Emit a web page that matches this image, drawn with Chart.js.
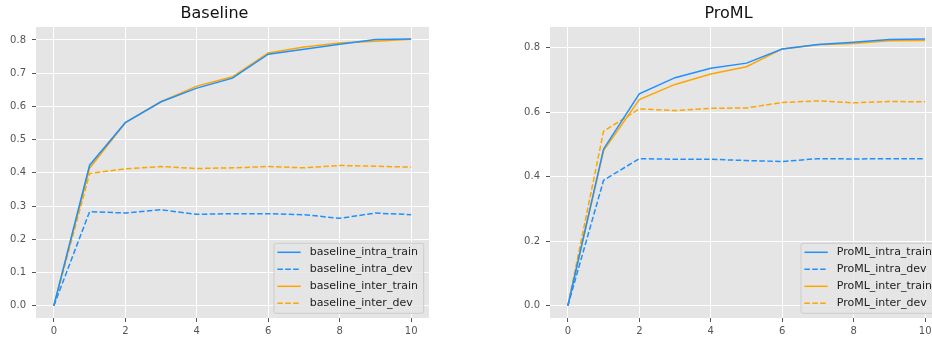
<!DOCTYPE html>
<html>
<head>
<meta charset="utf-8">
<script src="https://cdn.jsdelivr.net/npm/chart.js@4"></script>
<style>
  html, body { margin: 0; padding: 0; overflow: hidden; background: #fff; }
  body { width: 932px; height: 337px; position: relative; }
  canvas { position: absolute; top: 0; }
</style>
</head>
<body>
<canvas id="baseline" width="466" height="337" style="left:0px"></canvas>
<canvas id="proml" width="466" height="337" style="left:514px"></canvas>
<script>
const epochs = [0, 1, 2, 3, 4, 5, 6, 7, 8, 9, 10];
const xTicks = [0, 2, 4, 6, 8, 10];

// Baseline
const baselineIntraTrain = [0, 0.423, 0.551, 0.614, 0.655, 0.685, 0.757, 0.772, 0.787, 0.801, 0.803];
const baselineIntraDev   = [0, 0.283, 0.279, 0.289, 0.275, 0.277, 0.277, 0.274, 0.263, 0.279, 0.274];
const baselineInterTrain = [0, 0.414, 0.551, 0.614, 0.661, 0.689, 0.761, 0.779, 0.791, 0.796, 0.802];
const baselineInterDev   = [0, 0.398, 0.412, 0.419, 0.413, 0.415, 0.419, 0.415, 0.422, 0.420, 0.417];
const baselineYTicks = [0, 0.1, 0.2, 0.3, 0.4, 0.5, 0.6, 0.7, 0.8];

// ProML
const promlIntraTrain = [0, 0.486, 0.657, 0.707, 0.736, 0.752, 0.796, 0.810, 0.817, 0.825, 0.827];
const promlIntraDev   = [0, 0.389, 0.456, 0.454, 0.454, 0.450, 0.447, 0.456, 0.455, 0.456, 0.456];
const promlInterTrain = [0, 0.481, 0.639, 0.686, 0.718, 0.741, 0.796, 0.809, 0.813, 0.821, 0.822];
const promlInterDev   = [0, 0.541, 0.610, 0.605, 0.612, 0.613, 0.630, 0.635, 0.629, 0.633, 0.632];
const promlYTicks = [0, 0.2, 0.4, 0.6, 0.8];

const BLUE = '#1E90FF';
const ORANGE = '#FFA500';
const DASH = [5.5, 2.4];
const FONT = 'DejaVu Sans';

// grey panel like the ggplot style
const panelBg = {
    id: 'panelBg',
    beforeDraw(chart) {
        const { ctx, chartArea: a } = chart;
        ctx.save();
        ctx.fillStyle = '#E5E5E5';
        ctx.fillRect(a.left, a.top, a.right - a.left, a.bottom - a.top);
        ctx.restore();
    }
};

// legend inside the lower right corner of the plot
const cornerLegend = {
    id: 'cornerLegend',
    afterDatasetsDraw(chart) {
        const { ctx, chartArea: a } = chart;
        const sets = chart.data.datasets;
        ctx.save();
        ctx.font = '11px "' + FONT + '"';
        let textW = 0;
        sets.forEach(d => { textW = Math.max(textW, ctx.measureText(d.label).width); });
        const rowH = 17, padL = 3.4, padR = 5.7, lineW = 23.3, gap = 9;
        const w = padL + lineW + gap + textW + padR;
        const h = rowH * sets.length + 2;
        const right = a.right - 5.3;
        const bottom = a.bottom - 4.7;
        const left = right - w, top = bottom - h;
        ctx.beginPath();
        ctx.roundRect(left, top, w, h, 2);
        ctx.fillStyle = 'rgba(229,229,229,0.8)';
        ctx.fill();
        ctx.strokeStyle = '#CCCCCC';
        ctx.lineWidth = 1;
        ctx.stroke();
        sets.forEach((d, i) => {
            const cy = top + 9 + i * rowH;
            ctx.beginPath();
            ctx.setLineDash(d.borderDash || []);
            ctx.strokeStyle = d.borderColor;
            ctx.lineWidth = d.borderWidth;
            ctx.moveTo(left + padL, cy);
            ctx.lineTo(left + padL + lineW, cy);
            ctx.stroke();
            ctx.setLineDash([]);
            ctx.fillStyle = '#222';
            ctx.textBaseline = 'middle';
            ctx.fillText(d.label, left + padL + lineW + gap, cy);
        });
        ctx.restore();
    }
};

function series(label, values, color, dashed) {
    return {
        label: label,
        data: epochs.map((e, i) => ({ x: e, y: values[i] })),
        borderColor: color,
        backgroundColor: color,
        borderWidth: 1.5,
        borderDash: dashed ? DASH : [],
        pointRadius: 0,
        tension: 0,
        fill: false
    };
}

function makeChart(id, title, datasets, yTicks, yMin, yMax) {
    const ctx = document.getElementById(id).getContext('2d');
    return new Chart(ctx, {
        type: 'line',
        data: { datasets: datasets },
        options: {
            responsive: false,
            animation: false,
            devicePixelRatio: 1,
            events: [],
            layout: { padding: { left: 0, right: 37, top: 0, bottom: 0 } },
            plugins: {
                legend: { display: false },
                tooltip: { enabled: false },
                title: {
                    display: true,
                    text: title,
                    color: '#111',
                    font: { family: FONT, size: 16, weight: 'normal' },
                    padding: { top: 4, bottom: 3.8 }
                }
            },
            scales: {
                x: {
                    type: 'linear',
                    min: -0.5,
                    max: 10.5,
                    afterBuildTicks: s => { s.ticks = xTicks.map(v => ({ value: v })); },
                    afterFit: s => { s.height = 19; },
                    grid: { color: '#FFFFFF', lineWidth: 1, tickLength: 4, tickColor: '#555555' },
                    border: { display: false },
                    ticks: { color: '#555555', padding: 3, font: { family: FONT, size: 10 }, maxRotation: 0 }
                },
                y: {
                    type: 'linear',
                    min: yMin,
                    max: yMax,
                    afterBuildTicks: s => { s.ticks = yTicks.map(v => ({ value: v })); },
                    afterFit: s => { s.width = 36; },
                    grid: { color: '#FFFFFF', lineWidth: 1, tickLength: 4, tickColor: '#555555' },
                    border: { display: false },
                    ticks: {
                        color: '#555555',
                        padding: 6,
                        font: { family: FONT, size: 10 },
                        callback: v => Number(v).toFixed(1)
                    }
                }
            }
        },
        plugins: [panelBg, cornerLegend]
    });
}

makeChart('baseline', 'Baseline', [
    series('baseline_intra_train', baselineIntraTrain, BLUE, false),
    series('baseline_intra_dev', baselineIntraDev, BLUE, true),
    series('baseline_inter_train', baselineInterTrain, ORANGE, false),
    series('baseline_inter_dev', baselineInterDev, ORANGE, true)
], baselineYTicks, -0.037, 0.839);

makeChart('proml', 'ProML', [
    series('ProML_intra_train', promlIntraTrain, BLUE, false),
    series('ProML_intra_dev', promlIntraDev, BLUE, true),
    series('ProML_inter_train', promlInterTrain, ORANGE, false),
    series('ProML_inter_dev', promlInterDev, ORANGE, true)
], promlYTicks, -0.038, 0.864);
</script>
</body>
</html>
